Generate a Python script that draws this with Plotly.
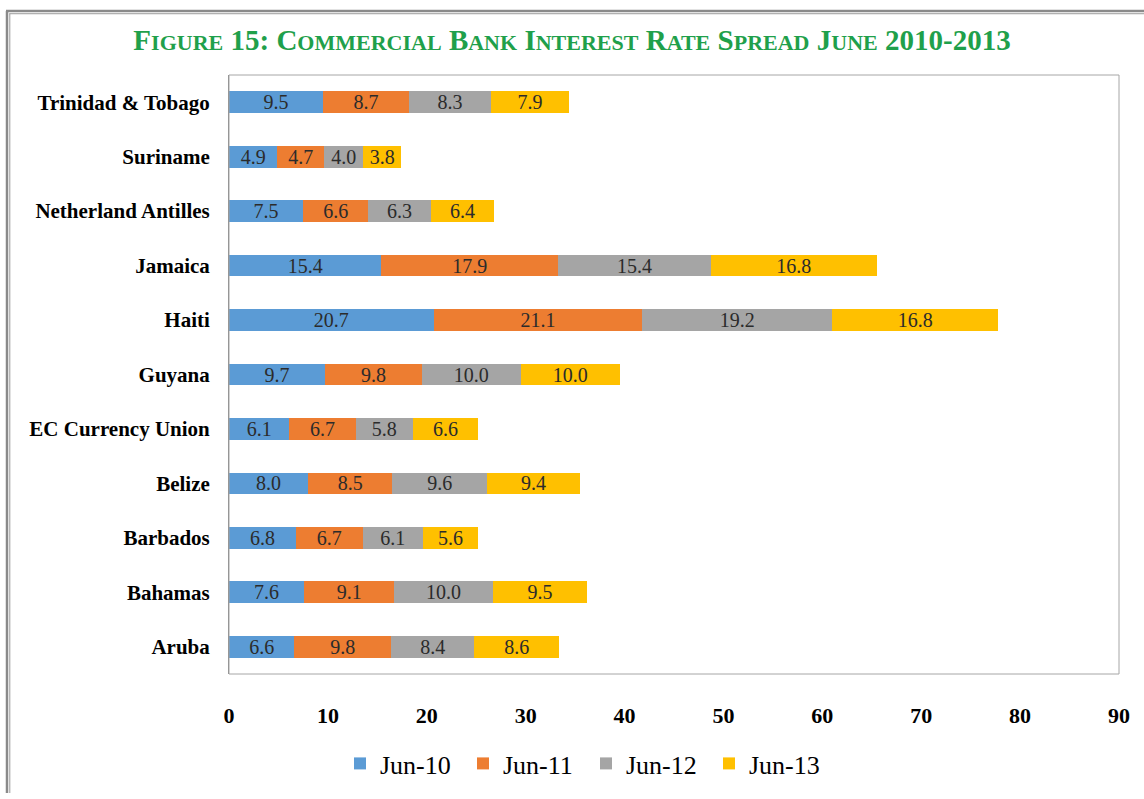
import plotly.graph_objects as go

countries = ["Aruba", "Bahamas", "Barbados", "Belize", "EC Currency Union", "Guyana",
             "Haiti", "Jamaica", "Netherland Antilles", "Suriname", "Trinidad & Tobago"]
series_names = ["Jun-10", "Jun-11", "Jun-12", "Jun-13"]
jun10 = [6.6, 7.6, 6.8, 8.0, 6.1, 9.7, 20.7, 15.4, 7.5, 4.9, 9.5]
jun11 = [9.8, 9.1, 6.7, 8.5, 6.7, 9.8, 21.1, 17.9, 6.6, 4.7, 8.7]
jun12 = [8.4, 10.0, 6.1, 9.6, 5.8, 10.0, 19.2, 15.4, 6.3, 4.0, 8.3]
jun13 = [8.6, 9.5, 5.6, 9.4, 6.6, 10.0, 16.8, 16.8, 6.4, 3.8, 7.9]
colors = ["#5B9BD5", "#ED7D31", "#A5A5A5", "#FFC000"]
x_ticks = [0, 10, 20, 30, 40, 50, 60, 70, 80, 90]
TITLE = "FIGURE 15: COMMERCIAL BANK INTEREST RATE SPREAD JUNE 2010-2013"

FONT = "Liberation Serif"

def small_caps(text, big=29, small=22):
    out = []
    for word in text.split(" "):
        parts = []
        for i, ch in enumerate(word):
            if ch.isalpha() and i > 0:
                parts.append(f"<span style='font-size:{small}px'>{ch}</span>")
            else:
                parts.append(f"<span style='font-size:{big}px'>{ch}</span>")
        out.append("".join(parts))
    return " ".join(out)

fig = go.Figure()
for name, vals, col in zip(series_names, [jun10, jun11, jun12, jun13], colors):
    fig.add_trace(go.Bar(
        y=countries, x=vals, name=name, orientation="h",
        marker=dict(color=col, line=dict(width=0)),
        text=[f"{v:.1f}" for v in vals], textposition="inside",
        insidetextanchor="middle", textangle=0, constraintext="none",
        textfont=dict(family=FONT, size=20, color="#2b2b2b"),
        hoverinfo="skip",
    ))

# plot area in pixels
L, T, W, H = 229, 75, 890, 609
def px_x(px):
    return (px - L) / W
def px_y(py):
    return (T + H - py) / H

shapes = [
    dict(type="rect", xref="paper", yref="paper", x0=0, x1=1, y0=0, y1=1,
         line=dict(color="#a6a6a6", width=1), layer="above"),
    # page frame
    dict(type="line", xref="paper", yref="paper", x0=px_x(7), x1=px_x(7), y0=px_y(10), y1=px_y(805),
         line=dict(color="#8a8a8a", width=2.5)),
    dict(type="line", xref="paper", yref="paper", x0=px_x(9.8), x1=px_x(9.8), y0=px_y(12.5), y1=px_y(805),
         line=dict(color="#9a9a9a", width=1)),
    dict(type="line", xref="paper", yref="paper", x0=px_x(6), x1=px_x(1150), y0=px_y(10), y1=px_y(10),
         line=dict(color="#8a8a8a", width=2.5)),
    dict(type="line", xref="paper", yref="paper", x0=px_x(9.3), x1=px_x(1150), y0=px_y(12.7), y1=px_y(12.7),
         line=dict(color="#9a9a9a", width=1)),
]

fig.update_layout(
    barmode="stack", bargap=0.6,
    width=1144, height=799,
    margin=dict(l=L, r=1144 - L - W, t=T, b=799 - T - H),
    paper_bgcolor="white", plot_bgcolor="white",
    font=dict(family=FONT, color="#000000"),
    title=dict(text=small_caps(TITLE), x=0.5, xref="container", xanchor="center",
               y=1 - 40 / 799, yref="container", yanchor="middle",
               font=dict(family=FONT, size=29, color="#1fa04b", weight="bold")),
    xaxis=dict(range=[0, 90], tickvals=x_ticks, showgrid=False, zeroline=False, showline=False,
               ticks="", ticklabelstandoff=26,
               tickfont=dict(family=FONT, size=22, color="#000000", weight="bold")),
    yaxis=dict(showgrid=False, zeroline=False, showline=True, linecolor="#868686", linewidth=1,
               ticks="", ticklabelstandoff=14,
               tickfont=dict(family=FONT, size=21, color="#000000", weight="bold")),
    legend=dict(orientation="h", x=px_x(586), xanchor="center", y=px_y(775), yanchor="middle",
                font=dict(family=FONT, size=26, color="#000000"), traceorder="normal",
                entrywidth=78, bgcolor="rgba(0,0,0,0)"),
    shapes=shapes,
    showlegend=True,
)

fig.write_html("out.html", config={"displayModeBar": False},
               post_script="document.body.style.margin='0';document.body.style.overflow='hidden';")
